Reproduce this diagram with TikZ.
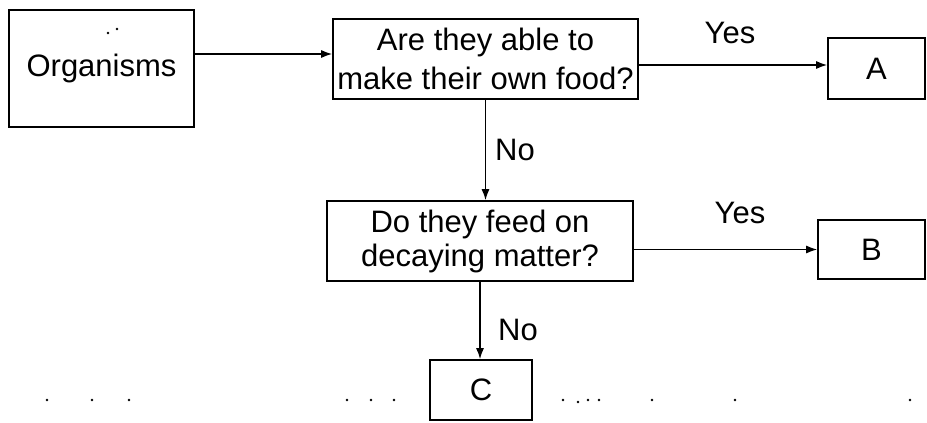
\documentclass[tikz,border=0pt]{standalone}
\usepackage{fontspec}
\setmainfont{Liberation Sans}
\usetikzlibrary{arrows.meta}
\begin{document}
\begin{tikzpicture}[x=1pt,y=-1pt,
  box/.style={draw=black,line width=1.6pt,inner sep=0pt,align=center,
    font=\fontsize{31}{38}\selectfont},
  lbl/.style={inner sep=0pt,font=\fontsize{31}{38}\selectfont},
  arr/.style={line width=1.5pt,-{Latex[length=11pt,width=8pt]}},
  speck/.style={fill=black,draw=none}]
\useasboundingbox (0,0) rectangle (927,423);
\fill[white] (0,0) rectangle (927,423);

\node[box,minimum width=185pt,minimum height=117pt] (org) at (101.5,68.5) {Organisms};
\node[box,minimum width=305pt,minimum height=80pt,font=\fontsize{31}{39}\selectfont] (q1) at (485.5,59) {Are they able to\\make their own food?};
\node[box,minimum width=97pt,minimum height=61pt] (a) at (876.5,68.5) {A};
\node[box,minimum width=306pt,minimum height=80pt,font=\fontsize{31}{34}\selectfont] (q2) at (480,241) {Do they feed on\\decaying matter?};
\node[box,minimum width=107pt,minimum height=59pt] (b) at (871.5,249.5) {B};
\node[box,minimum width=102pt,minimum height=60pt] (c) at (481,390) {C};

\coordinate (y1) at ([yshift=5pt]q1.west);
\coordinate (y2) at ([yshift=-6pt]q1.east);
\draw[arr] (org.east |- y1) -- (y1);
\draw[arr] (y2) -- (a.west |- y2);
\draw[arr] (q1.south) -- (q1.south |- q2.north);
\draw[arr] (q2.east |- b.west) -- (b.west);
\draw[arr] (q2.south) -- (q2.south |- c.north);

\node[lbl] (yes1) at (730,33) {Yes};
\node[lbl] (no1) at (515,150) {No};
\node[lbl] (yes2) at (740,213) {Yes};
\node[lbl] (no2) at (518,330) {No};

% scan specks
\foreach \px/\py in {108/33,117/29,47/400,92/400,129/400,347/400,371/400,394/400,563/400,578/402,588/400,599/400,652/400,735/400,910/400}
  \fill[speck] (\px,\py) circle (1.3pt);
\end{tikzpicture}
\end{document}
